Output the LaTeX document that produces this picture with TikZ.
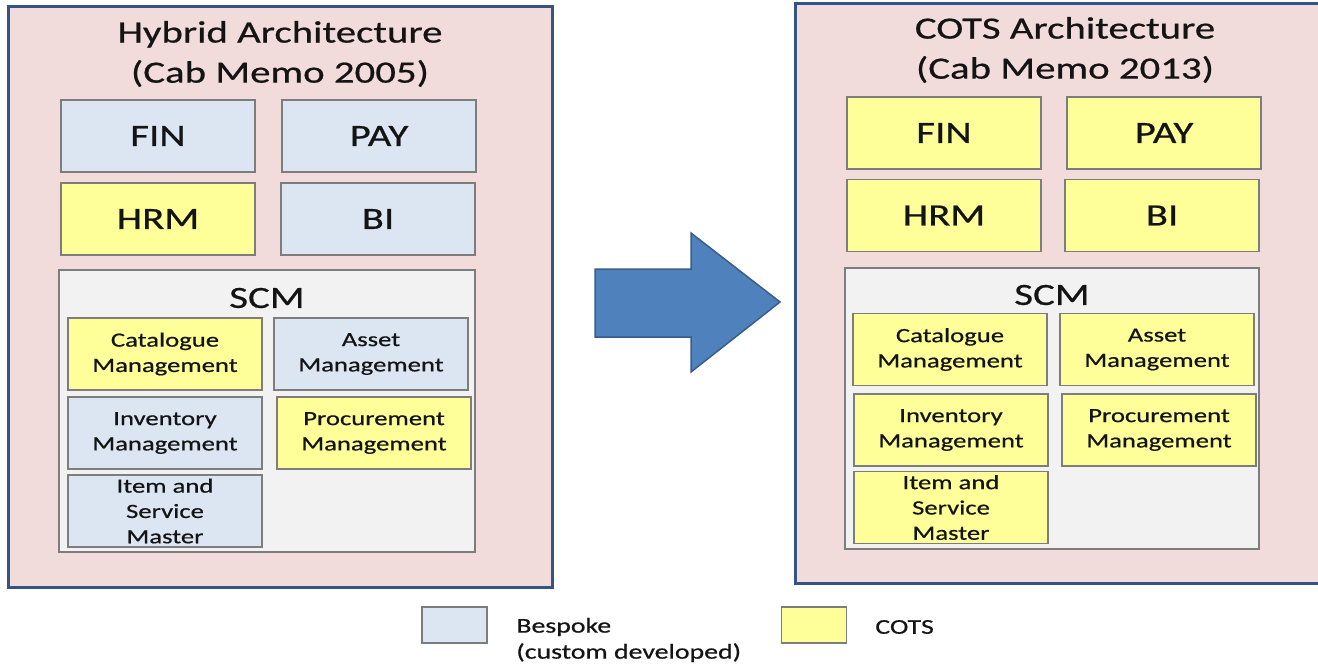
\documentclass[tikz,border=0pt]{standalone}
\usepackage{fontspec}
\setmainfont{Carlito}[FakeStretch=1.32, FakeBold=0.6]
\usepackage{tikz}
\usetikzlibrary{positioning}
\definecolor{panelpink}{RGB}{242,220,219}
\definecolor{paneledge}{RGB}{52,84,134}
\definecolor{bespokeblue}{RGB}{220,230,242}
\definecolor{cotsyellow}{RGB}{255,255,153}
\definecolor{scmgrey}{RGB}{242,242,242}
\definecolor{boxedge}{RGB}{125,125,125}
\definecolor{arrowblue}{RGB}{79,129,189}
\definecolor{arrowedge}{RGB}{56,93,138}
\definecolor{inkblack}{RGB}{20,20,20}
\tikzset{
  panel/.style={draw=paneledge, line width=0.6mm, fill=panelpink, inner sep=0pt},
  module/.style={draw=boxedge, line width=0.3mm, minimum width=38.8mm, minimum height=14.4mm,
    inner sep=0pt, align=center, text=inkblack},
  bigtext/.style={font=\fontsize{17.6}{21}\selectfont},
  smalltext/.style={font=\fontsize{11.5}{14.4}\selectfont},
  bespoke/.style={module, fill=bespokeblue},
  cots/.style={module, fill=cotsyellow},
  scmbox/.style={draw=boxedge, line width=0.3mm, fill=scmgrey, inner sep=0pt},
  legendbox/.style={draw=boxedge, line width=0.3mm, minimum width=13mm, minimum height=7.2mm, inner sep=0pt}
}
\begin{document}
\begin{tikzpicture}[x=0.2mm, y=-0.2mm]
\useasboundingbox (0,0) rectangle (1318,665);
\clip (0,0) rectangle (1318,665);
\node[panel, minimum width=108.6mm, minimum height=116mm] (lpanel) at (280.5,297) {};
\node[text=inkblack, align=center, font=\fontsize{17.6}{22.8}\selectfont] (ltitle) at (280,54) {Hybrid Architecture\\(Cab Memo 2005)};
\node[bespoke, bigtext] (lfin) at (158,136) {FIN};
\node[bespoke, bigtext] (lpay) at (379,136) {PAY};
\node[cots, bigtext] (lhrm) at (158,219) {HRM};
\node[bespoke, bigtext] (lbi) at (378,219) {BI};
\node[scmbox, minimum width=83.2mm, minimum height=56.4mm] (lscm) at (267,411) {};
\node[text=inkblack, bigtext] (lscmlabel) at (267,298) {SCM};
\node[cots, smalltext] (lcat) at (165,354) {Catalogue\\Management};
\node[bespoke, smalltext] (lasset) at (371,354) {Asset\\Management};
\node[bespoke, smalltext] (linv) at (165,433) {Inventory\\Management};
\node[cots, smalltext] (lproc) at (374,433) {Procurement\\Management};
\node[bespoke, smalltext] (litem) at (165,511) {Item and\\Service\\Master};
\draw[fill=arrowblue, draw=arrowedge, line width=0.3mm, line join=miter]
  (595,269) -- (691,269) -- (691,233) -- (780,302) -- (691,372) -- (691,337) -- (595,337) -- cycle;
\node[panel, minimum width=108mm, minimum height=115.8mm] (rpanel) at (1065,293.5) {};
\node[text=inkblack, align=center, font=\fontsize{17.6}{22.8}\selectfont] (rtitle) at (1065,50) {COTS Architecture\\(Cab Memo 2013)};
\node[cots, bigtext] (rfin) at (944,133) {FIN};
\node[cots, bigtext] (rpay) at (1164,133) {PAY};
\node[cots, bigtext] (rhrm) at (944,215.5) {HRM};
\node[cots, bigtext] (rbi) at (1162,215.5) {BI};
\node[scmbox, minimum width=82.8mm, minimum height=56.2mm] (rscm) at (1052,408.5) {};
\node[text=inkblack, bigtext] (rscmlabel) at (1052,295) {SCM};
\node[cots, smalltext] (rcat) at (950,349.5) {Catalogue\\Management};
\node[cots, smalltext] (rasset) at (1157,349.5) {Asset\\Management};
\node[cots, smalltext] (rinv) at (951,430) {Inventory\\Management};
\node[cots, smalltext] (rproc) at (1159,430) {Procurement\\Management};
\node[cots, smalltext] (ritem) at (951,507.5) {Item and\\Service\\Master};
\node[legendbox, fill=bespokeblue] (keybespoke) at (454.5,625) {};
\node[anchor=west, align=left, inner sep=0pt, text=inkblack, font=\fontsize{12}{14.8}\selectfont] (keybespoketext) at (516,640) {Bespoke\\(custom developed)};
\node[legendbox, fill=cotsyellow] (keycots) at (814,625) {};
\node[anchor=west, inner sep=0pt, text=inkblack, font=\fontsize{12}{14.8}\selectfont] (keycotstext) at (875,627) {COTS};
\end{tikzpicture}
\end{document}
